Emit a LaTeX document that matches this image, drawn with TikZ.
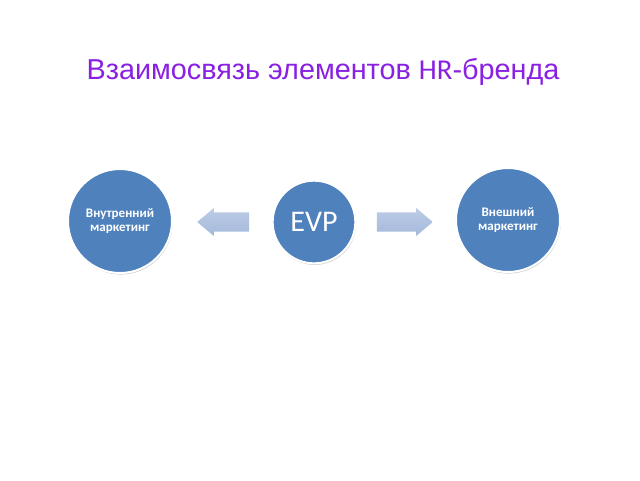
\documentclass[tikz,border=0pt]{standalone}
\usepackage{fontspec}
\setmainfont{Liberation Sans}
\newfontfamily\calibrifont{Carlito}
\usetikzlibrary{shapes.arrows,shadows}
\definecolor{titlepurple}{RGB}{138,32,226}
\definecolor{circleblue}{RGB}{79,129,189}
\definecolor{arrowlight}{RGB}{188,204,230}
\definecolor{arrowdark}{RGB}{164,185,218}
\tikzset{
  bubble/.style={circle, fill=circleblue, draw=white, line width=1.5pt,
                 drop shadow={shadow xshift=0.6pt, shadow yshift=-1.2pt, opacity=0.35},
                 text=white, align=center, inner sep=0pt},
  bigbubble/.style={bubble, minimum size=78pt, font=\calibrifont\bfseries\fontsize{9.8}{11}\selectfont},
  midbubble/.style={bubble, minimum size=62pt, font=\calibrifont\fontsize{22.5}{26}\selectfont},
  blockarrow/.style={single arrow, draw=none, minimum height=39pt, minimum width=0pt,
                     text height=0pt, text depth=0pt, inner xsep=0pt, inner ysep=7.1pt,
                     single arrow head extend=3.2pt, single arrow tip angle=80,
                     top color=arrowlight, bottom color=arrowdark},
}
\begin{document}
\begin{tikzpicture}[x=0.75pt,y=-0.75pt]
\useasboundingbox[fill=white] (0,0) rectangle (640,480);
\node[font=\fontsize{21.6}{26}\selectfont, text=titlepurple] (title) at (323,72)
  {Взаимосвязь элементов {\calibrifont HR}-бренда};

\node[bigbubble] (inner) at (120,221) {Внутренний\\маркетинг};
\node[midbubble] (evp) at (314,222) {EVP};
\node[bigbubble] (outer) at (508,220) {Внешний\\маркетинг};

\node[blockarrow, shape border rotate=180] (toinner) at (229,222) {};
\node[blockarrow, minimum height=42pt] (toouter) at (399,222) {};
\end{tikzpicture}
\end{document}
